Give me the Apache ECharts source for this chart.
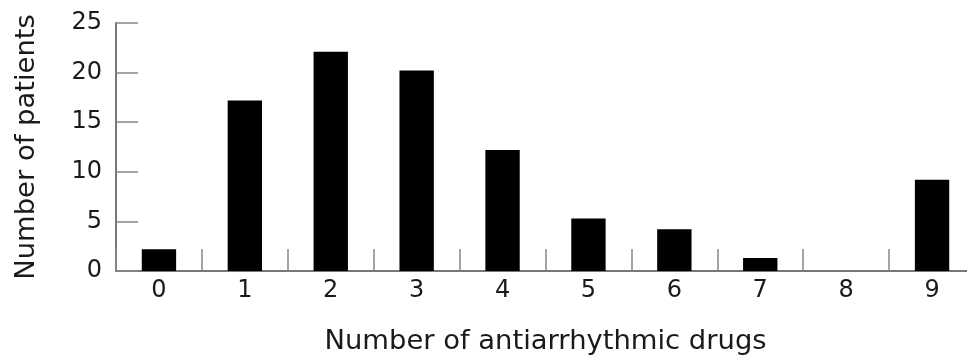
<!DOCTYPE html>
<html>
<head>
<meta charset="utf-8">
<script src="https://cdn.jsdelivr.net/npm/echarts@6/dist/echarts.min.js"></script>
<style>
html,body{margin:0;padding:0;background:#fff;}
#chart{width:967px;height:357px;}
</style>
</head>
<body>
<div id="chart"></div>
<script>
var categories = ['0','1','2','3','4','5','6','7','8','9'];
var patients = [2.2, 17.2, 22.1, 20.2, 12.2, 5.3, 4.2, 1.3, 0, 9.2];
var yTicks = [0, 5, 10, 15, 20, 25];

var FONT = '"DejaVu Sans", sans-serif';
var chart = echarts.init(document.getElementById('chart'), null, {renderer: 'canvas'});
chart.setOption({
  animation: false,
  backgroundColor: '#fff',
  grid: {left: 116, right: -8, top: 23, bottom: 86, containLabel: false, outerBoundsMode: 'none'},
  xAxis: {
    type: 'category',
    data: categories,
    name: 'Number of antiarrhythmic drugs',
    nameLocation: 'middle',
    nameGap: 57,
    nameTextStyle: {fontFamily: FONT, fontSize: 27.4, color: '#1a1a1a'},
    axisLine: {show: true, lineStyle: {color: '#777', width: 2}},
    axisTick: {show: true, inside: true, alignWithLabel: false, interval: 0, length: 22, lineStyle: {color: '#888', width: 1.5}},
    axisLabel: {fontFamily: FONT, fontSize: 24, color: '#1a1a1a', margin: 8, interval: 0}
  },
  yAxis: {
    type: 'value',
    min: yTicks[0],
    max: yTicks[yTicks.length - 1],
    interval: 5,
    name: 'Number of patients',
    nameLocation: 'middle',
    nameGap: 76,
    nameTextStyle: {fontFamily: FONT, fontSize: 27.4, color: '#1a1a1a'},
    splitLine: {show: false},
    axisLine: {show: true, lineStyle: {color: '#777', width: 2}},
    axisTick: {show: true, inside: true, length: 22, lineStyle: {color: '#888', width: 1.5}},
    axisLabel: {fontFamily: FONT, fontSize: 24, color: '#1a1a1a', margin: 14}
  },
  series: [{
    type: 'bar',
    data: patients,
    barWidth: '40%',
    itemStyle: {color: '#000'}
  }]
});
</script>
</body>
</html>
